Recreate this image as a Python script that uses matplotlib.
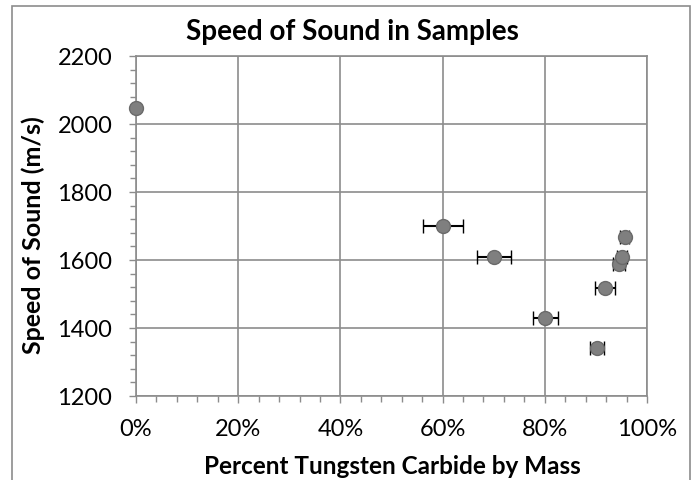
import numpy as np
import matplotlib
matplotlib.use("Agg")
import matplotlib.pyplot as plt
from matplotlib.ticker import MultipleLocator, FuncFormatter
from matplotlib.patches import Rectangle

# percent tungsten carbide by mass, speed of sound (m/s), x error (percent)
wc_percent = [0.0, 60.1, 70.1, 80.1, 90.2, 91.8, 94.5, 95.1, 95.6]
speed = [2047, 1700, 1609, 1430, 1340, 1518, 1588, 1610, 1668]
x_err = [0.0, 3.9, 3.3, 2.4, 1.3, 1.9, 1.2, 0.9, 0.8]

plt.rcParams['font.family'] = ['Lato', 'DejaVu Sans']

fig = plt.figure(figsize=(6.99, 4.81), dpi=100)
ax = fig.add_axes([136 / 699, 1 - 397 / 481, (647 - 136) / 699, (397 - 57) / 481])

grid_col = '#8c8c8c'
ax.errorbar(wc_percent, speed, xerr=x_err, fmt='o', color='black',
            ecolor='black', elinewidth=1.5, capsize=5, capthick=1.5,
            markersize=10, markerfacecolor='#7f7f7f', markeredgecolor='#6a6a6a',
            markeredgewidth=1, zorder=3, clip_on=False)

ax.set_xlim(0, 100)
ax.set_ylim(1200, 2200)
ax.xaxis.set_major_locator(MultipleLocator(20))
ax.xaxis.set_minor_locator(MultipleLocator(4))
ax.yaxis.set_major_locator(MultipleLocator(200))
ax.yaxis.set_minor_locator(MultipleLocator(40))
ax.xaxis.set_major_formatter(FuncFormatter(lambda v, p: f"{v:.0f}%"))

ax.grid(True, which='major', color=grid_col, linewidth=1.2)
ax.set_axisbelow(True)
for s in ax.spines.values():
    s.set_color(grid_col)
    s.set_linewidth(1.2)

ax.tick_params(which='both', direction='out', color=grid_col, width=1)
ax.tick_params(which='major', length=5, labelsize=17)
ax.tick_params(which='minor', length=4)
ax.tick_params(axis='x', which='major', pad=11)
ax.tick_params(axis='y', which='major', pad=12)

# title and axis labels placed where the reference has them
fig.text(0.504, 1 - 40 / 481, "Speed of Sound in Samples", fontsize=20,
         fontweight='bold', ha='center', va='baseline')
fig.text(392 / 699, 1 - 474 / 481, "Percent Tungsten Carbide by Mass", fontsize=17.5,
         fontweight='bold', ha='center', va='baseline')
fig.text(33 / 699, 1 - 235.5 / 481, "Speed of Sound (m/s)", fontsize=18,
         fontweight='bold', ha='center', va='center', rotation=90)

fig.patches.append(Rectangle((12 / 699, -0.01), (690 - 12) / 699, (481 - 7) / 481 + 0.01,
                             transform=fig.transFigure, fill=False,
                             edgecolor=grid_col, linewidth=1.2))

fig.savefig("out.png", dpi=100)
